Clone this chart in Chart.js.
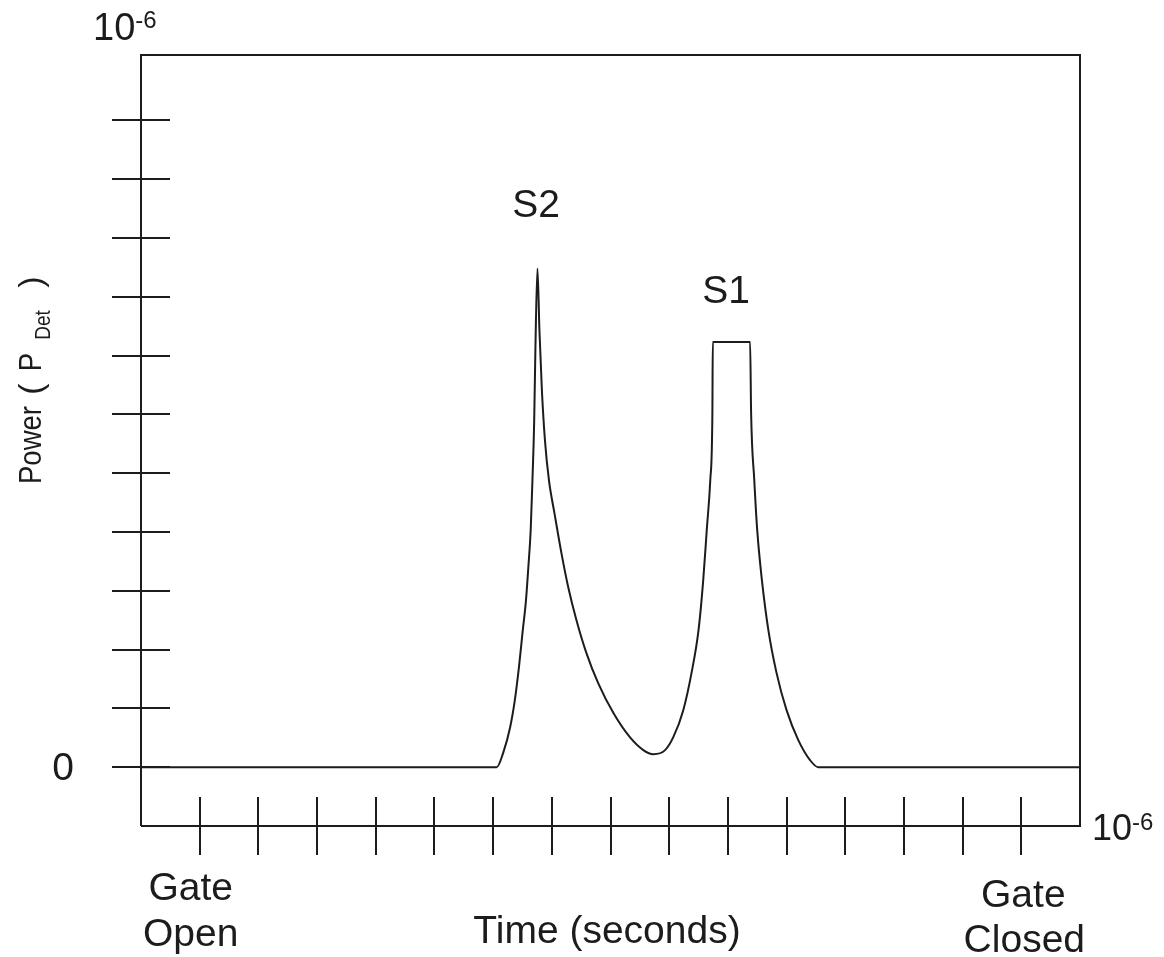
<!DOCTYPE html>
<html>
<head>
<meta charset="utf-8">
<script src="https://cdn.jsdelivr.net/npm/chart.js@4.4.1/dist/chart.umd.min.js"></script>
<style>
  html, body { margin: 0; padding: 0; background: #fff; }
  #wrap { width: 1164px; height: 957px; }
</style>
</head>
<body>
<div id="wrap"><canvas id="pulse" width="1164" height="957"></canvas></div>
<script>
// time axis: one unit per tick, 1 = gate open, 15 = gate closed
const timeValues = [
  0, 6.06, 6.17, 6.29, 6.37, 6.44, 6.50, 6.56, 6.60, 6.64, 6.67, 6.70, 6.72, 6.755,
  6.789, 6.831, 6.883, 6.951, 7.045, 7.164, 7.28, 7.42, 7.59, 7.79, 8.05, 8.33, 8.56, 8.73,
  8.93, 9.07, 9.24, 9.38, 9.50, 9.58, 9.64, 9.70, 9.736, 9.743,
  10.379, 10.396, 10.45, 10.50, 10.58, 10.69, 10.83, 11.00, 11.20, 11.40, 11.54, 16
];
// detected power (same units as the y ticks)
const powerValues = [
  0, 0, 0.24, 0.68, 1.14, 1.70, 2.28, 2.84, 3.40, 4.03, 4.88, 5.90, 7.09, 8.48,
  7.43, 6.41, 5.56, 4.88, 4.32, 3.64, 3.06, 2.50, 1.94, 1.43, 0.92, 0.51, 0.29, 0.22,
  0.29, 0.51, 0.97, 1.60, 2.33, 3.18, 4.03, 4.88, 6.02, 7.23,
  7.23, 6.02, 4.88, 4.03, 3.18, 2.33, 1.60, 0.97, 0.46, 0.12, 0, 0
];
const xTickValues = [1, 2, 3, 4, 5, 6, 7, 8, 9, 10, 11, 12, 13, 14, 15];
const yTickValues = [0, 1, 2, 3, 4, 5, 6, 7, 8, 9, 10, 11];

const FONT = '"Liberation Sans", Arial, sans-serif';
const INK = '#1c1c1c';

// draws base + superscript, e.g. 10^-6
function drawPower(ctx, base, sup, x, baseline, size, supSize, rise) {
  ctx.textAlign = 'left';
  ctx.textBaseline = 'alphabetic';
  ctx.font = size + 'px ' + FONT;
  ctx.fillText(base, x, baseline);
  const w = ctx.measureText(base).width;
  ctx.font = supSize + 'px ' + FONT;
  ctx.fillText(sup, x + w, baseline - rise);
}

const framePlugin = {
  id: 'frame',
  afterDraw(chart) {
    const ctx = chart.ctx;
    const xs = chart.scales.x, ys = chart.scales.y;
    const a = chart.chartArea;
    ctx.save();
    ctx.strokeStyle = INK;
    ctx.fillStyle = INK;
    ctx.lineWidth = 2;

    // box
    ctx.beginPath();
    ctx.moveTo(a.left, a.bottom);
    ctx.lineTo(a.left, a.top);
    ctx.lineTo(a.right, a.top);
    ctx.lineTo(a.right, a.bottom);
    ctx.lineTo(a.left, a.bottom);
    ctx.stroke();

    // ticks cross the axes
    const len = 29;
    yTickValues.forEach(v => {
      const py = Math.round(ys.getPixelForValue(v));
      ctx.beginPath();
      ctx.moveTo(a.left - len, py);
      ctx.lineTo(a.left + len, py);
      ctx.stroke();
    });
    xTickValues.forEach(v => {
      const px = Math.round(xs.getPixelForValue(v));
      ctx.beginPath();
      ctx.moveTo(px, a.bottom - len);
      ctx.lineTo(px, a.bottom + len);
      ctx.stroke();
    });

    // text
    ctx.textBaseline = 'alphabetic';
    ctx.textAlign = 'center';
    ctx.font = '39px ' + FONT;
    const x1 = xs.getPixelForValue(1), x15 = xs.getPixelForValue(15);
    ctx.fillText('Gate', x1 - 9, 900);
    ctx.fillText('Open', x1 - 9, 946);
    ctx.fillText('Gate', x15 + 2, 907);
    ctx.fillText('Closed', x15 + 3, 952);
    ctx.fillText('Time (seconds)', 607, 943);
    ctx.fillText('S2', 536, 217);
    ctx.fillText('S1', 726, 303);
    ctx.fillText('0', 63, ys.getPixelForValue(0) + 13);

    drawPower(ctx, '10', '-6', 93, 40, 38, 24, 12);
    drawPower(ctx, '10', '-6', 1092, 840, 36, 24, 10);

    // rotated y title: Power (P_Det), glyphs slightly condensed like the original
    ctx.save();
    ctx.translate(41, 0);
    ctx.rotate(-Math.PI / 2);
    ctx.textAlign = 'center';
    const put = (s, centreY, size, drop, sx) => {
      ctx.save();
      ctx.translate(-centreY, drop);
      ctx.scale(sx, 1);
      ctx.font = size + 'px ' + FONT;
      ctx.fillText(s, 0, 0);
      ctx.restore();
    };
    put('Power', 445, 32, 0, 0.86);
    put('(', 389, 34, 1, 1);
    put('P', 362, 32, 0, 0.86);
    put('Det', 325, 22, 9, 0.86);
    put(')', 282, 34, 1, 1);
    ctx.restore();

    ctx.restore();
  }
};

new Chart(document.getElementById('pulse'), {
  type: 'line',
  data: {
    datasets: [{
      data: timeValues.map((t, i) => ({ x: t, y: powerValues[i] })),
      borderColor: INK,
      borderWidth: 2,
      pointRadius: 0,
      cubicInterpolationMode: 'monotone',
      fill: false
    }]
  },
  options: {
    responsive: false,
    animation: false,
    layout: { padding: { left: 141, top: 55, right: 84, bottom: 131 } },
    scales: {
      x: { type: 'linear', min: 0, max: 16, display: false },
      y: { type: 'linear', min: -1, max: 12.11, display: false }
    },
    plugins: {
      legend: { display: false },
      tooltip: { enabled: false }
    }
  },
  plugins: [framePlugin]
});
</script>
</body>
</html>
